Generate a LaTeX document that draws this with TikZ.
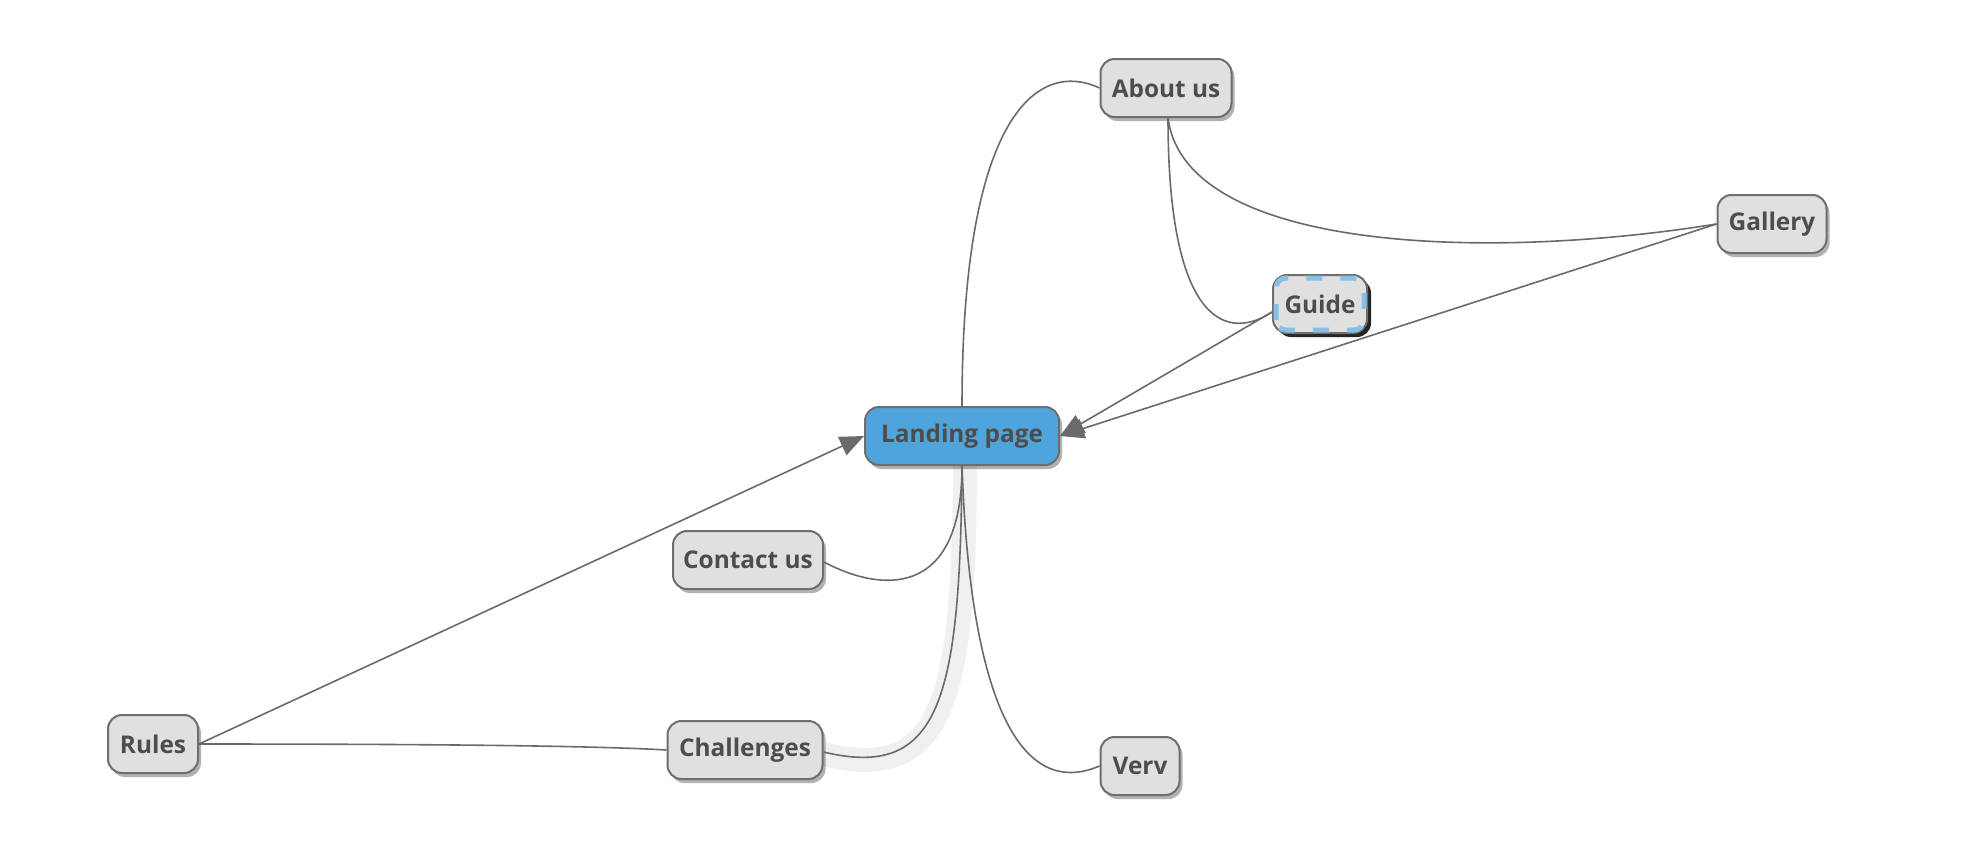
\documentclass[tikz,border=0pt]{standalone}
\usepackage{fontspec}
\setmainfont{Open Sans}
\usetikzlibrary{shadows,arrows.meta,calc,backgrounds}
\definecolor{nodefill}{HTML}{E0E0E0}
\definecolor{nodeborder}{HTML}{6E6E6E}
\definecolor{textgray}{HTML}{4D4D4D}
\definecolor{landblue}{HTML}{4FA5DB}
\definecolor{guideblue}{HTML}{88BFE6}
\definecolor{edgegray}{HTML}{6A6A6A}
\definecolor{bandgray}{HTML}{F0F0F0}
\begin{document}
\begin{tikzpicture}[x=0.5pt,y=-0.5pt,
 box/.style={draw=nodeborder, line width=1pt, fill=nodefill, rounded corners=7pt,
   minimum height=29pt, inner xsep=3pt, inner ysep=0pt, text=textgray,
   font=\fontsize{12.2}{14}\selectfont\bfseries},
 softshadow/.style={drop shadow={shadow xshift=1.5pt, shadow yshift=-2pt, opacity=0.3, fill=black}},
 hardshadow/.style={drop shadow={shadow xshift=2pt, shadow yshift=-2pt, opacity=0.85, fill=black}},
 link/.style={draw=edgegray, line width=0.8pt},
 arr/.style={link, -{Triangle[length=12pt,width=10pt]}},
]
\useasboundingbox (0,0) rectangle (1969,848);
\node[box, softshadow, minimum width=97pt, fill=landblue] (land) at (962,436) {Landing page};
\node[box, softshadow, minimum width=65.5pt] (about) at (1166,88) {About us};
\node[box, softshadow, minimum width=54.5pt] (gallery) at (1772,224) {Gallery};
\node[box, hardshadow, minimum width=47pt] (guide) at (1320,304) {Guide};
\node[box, softshadow, minimum width=75pt] (contact) at (748,560) {Contact us};
\node[box, softshadow, minimum width=45pt] (rules) at (153,744) {Rules};
\node[box, softshadow, minimum width=77.5pt] (challenges) at (745,750) {Challenges};
\node[box, softshadow, minimum width=39.5pt] (verv) at (1140,766) {Verv};
\draw[guideblue, line width=2.5pt, dash pattern=on 8pt off 9pt, rounded corners=5pt]
  ($(guide.south west)+(4,-4)$) rectangle ($(guide.north east)+(-4,4)$);
\begin{pgfonlayer}{background}
\draw[bandgray, line width=12pt] ($(land.south)+(3,0)$) .. controls (964,700) and (944,784) .. ($(challenges.east)+(0,4)$);
\end{pgfonlayer}
\draw[link] (land.north) .. controls (962,110) and (1040,60) .. (about.west);
\draw[link] ($(about.south)+(2,0)$) .. controls (1185,250) and (1480,262) .. (gallery.west);
\draw[link] ($(about.south)+(2,0)$) .. controls (1168,330) and (1230,340) .. ($(guide.west)+(0,8)$);
\draw[arr] ($(guide.west)+(0,8)$) -- (land.east);
\draw[arr] (gallery.west) -- (land.east);
\draw[arr] (rules.east) -- (land.west);
\draw[link] (rules.east) .. controls (450,744) and (600,746) .. (challenges.west);
\draw[link] (land.south) .. controls (962,600) and (880,592) .. ($(contact.east)+(0,2)$);
\draw[link] (land.south) .. controls (960,700) and (940,780) .. ($(challenges.east)+(0,2)$);
\draw[link] (land.south) .. controls (970,700) and (1020,800) .. (verv.west);
\end{tikzpicture}
\end{document}
